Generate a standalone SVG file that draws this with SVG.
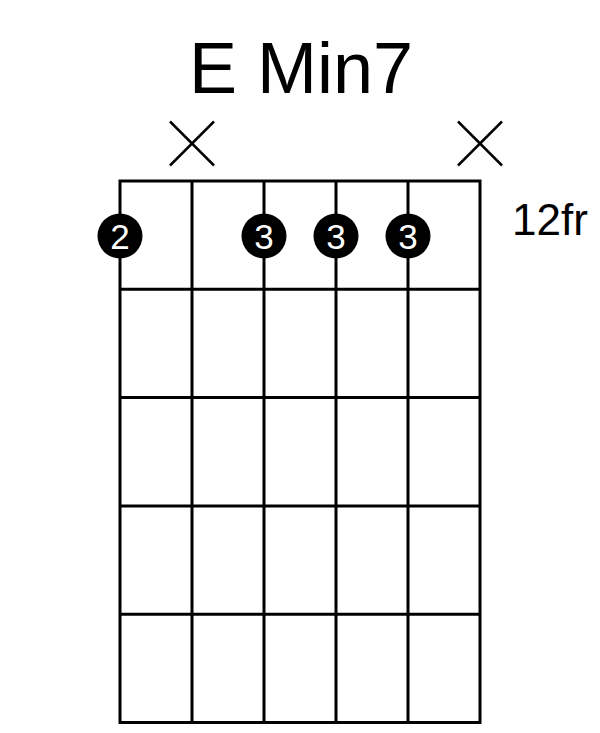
<svg xmlns="http://www.w3.org/2000/svg" width="600" height="733" viewBox="0 0 600 733">
<style>
.grid{stroke:#000;stroke-width:3;fill:none}
.x{stroke:#000;stroke-width:2.5;fill:none}
.dot{fill:#000}
.num{font-family:"Liberation Sans",Arial,sans-serif;font-size:35px;fill:#fff;text-anchor:middle}
.title{font-family:"Liberation Sans",Arial,sans-serif;font-size:72px;fill:#000;text-anchor:middle}
.fr{font-family:"Liberation Sans",Arial,sans-serif;font-size:44px;fill:#000}
</style>
<rect width="600" height="733" fill="#fff"/>
<text class="title" x="301" y="93">E Min7</text>
<g id="grid" class="grid">
<rect x="120" y="181" width="360" height="541.5"/>
<line x1="192" y1="181" x2="192" y2="722.5"/>
<line x1="264" y1="181" x2="264" y2="722.5"/>
<line x1="336" y1="181" x2="336" y2="722.5"/>
<line x1="408" y1="181" x2="408" y2="722.5"/>
<line x1="120" y1="289.3" x2="480" y2="289.3"/>
<line x1="120" y1="397.6" x2="480" y2="397.6"/>
<line x1="120" y1="505.9" x2="480" y2="505.9"/>
<line x1="120" y1="614.2" x2="480" y2="614.2"/>
</g>
<g id="mute1" class="x"><line x1="170" y1="121.5" x2="214" y2="165.5"/><line x1="214" y1="121.5" x2="170" y2="165.5"/></g>
<g id="mute6" class="x"><line x1="458" y1="121.5" x2="502" y2="165.5"/><line x1="502" y1="121.5" x2="458" y2="165.5"/></g>
<text class="fr" x="512" y="235">12fr</text>
<g id="dot1"><circle class="dot" cx="120" cy="236" r="22.5"/><text class="num" x="120" y="248.5">2</text></g>
<g id="dot3"><circle class="dot" cx="264" cy="236" r="22.5"/><text class="num" x="264" y="248.5">3</text></g>
<g id="dot4"><circle class="dot" cx="336" cy="236" r="22.5"/><text class="num" x="336" y="248.5">3</text></g>
<g id="dot5"><circle class="dot" cx="408" cy="236" r="22.5"/><text class="num" x="408" y="248.5">3</text></g>
</svg>
